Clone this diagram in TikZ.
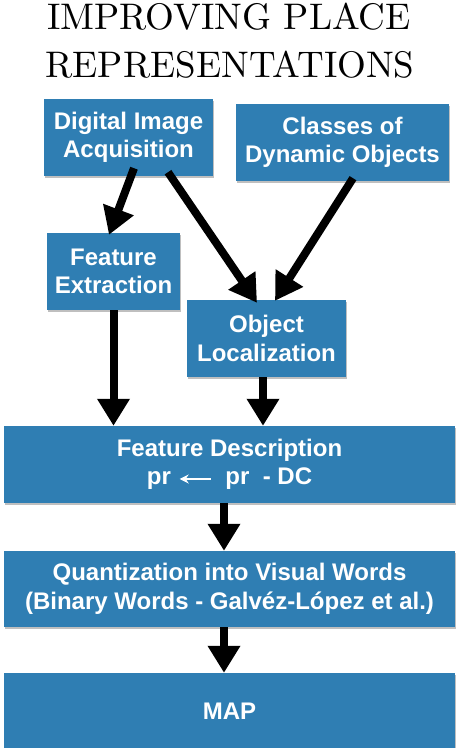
\documentclass[tikz,border=0pt]{standalone}
\usepackage{fontspec}
\setsansfont{Liberation Sans}
\usetikzlibrary{arrows.meta,shadows}
\definecolor{boxblue}{RGB}{47,126,179}
\newcommand{\whitearrow}{\tikz[baseline=0pt]\draw[white, line width=1.6pt, -{Stealth[length=9pt,width=9pt]}] (31pt,6pt) -- (0pt,6pt);}
\begin{document}
\begin{tikzpicture}[x=1pt,y=-1pt,
  box/.style={fill=boxblue, draw=none, text=white, align=center,
    font=\sffamily\bfseries\fontsize{24}{28.5}\selectfont,
    inner sep=0pt,
    drop shadow={shadow xshift=1pt, shadow yshift=-1.5pt, opacity=0.25, fill=black}},
  flow/.style={line width=8pt, -{Triangle[width=31pt,length=27pt]}},
  titletext/.style={anchor=base, inner sep=0pt}
]
\useasboundingbox (0,0) rectangle (458,748);
\begin{scope}
\clip (0,0) rectangle (458,748);
\node[titletext] (title1) at (229,29) {\scalebox{3.7}{\fontsize{10}{12}\selectfont IMPROVING PLACE}};
\node[titletext] (title2) at (230,77) {\scalebox{3.7}{\fontsize{10}{12}\selectfont REPRESENTATIONS}};

\node[box, minimum width=169pt, minimum height=77pt] (dia) at (128.5,137.5) {Digital Image\\Acquisition};
\node[box, minimum width=213pt, minimum height=77pt] (cdo) at (342.5,142.5) {Classes of\\Dynamic Objects};
\node[box, minimum width=133pt, minimum height=77pt] (fe) at (113.5,271.5) {Feature\\Extraction};
\node[box, minimum width=159pt, minimum height=77pt] (ol) at (266.5,338.5) {Object\\Localization};
\node[box, minimum width=451pt, minimum height=77pt] (fd) at (229.5,464.5) {Feature Description\\pr\hspace{8pt}\whitearrow\hspace{14pt}pr~~- DC};
\node[box, minimum width=451pt, minimum height=76pt] (q) at (229.5,589) {Quantization into Visual Words\\(Binary Words - Galvéz-López et al.)};
\node[box, minimum width=451pt, minimum height=77pt] (map) at (229.5,711.5) {MAP};

\draw[flow] ([xshift=5.5pt,yshift=8pt]dia.south) -- ([xshift=-4.5pt,yshift=-2pt]fe.north);
\draw[flow] ([xshift=39.5pt,yshift=4pt]dia.south) -- ([xshift=-9.5pt,yshift=-3pt]ol.north);
\draw[flow] ([xshift=10.5pt,yshift=3pt]cdo.south) -- ([xshift=8.5pt,yshift=-1pt]ol.north);
\draw[flow] (fe.south) -- (fe.south |- fd.north);
\draw[flow] ([xshift=-3.5pt]ol.south) -- ([xshift=-3.5pt]ol.south |- fd.north);
\draw[flow] ([xshift=-5.5pt]fd.south) -- ([xshift=-5.5pt]fd.south |- q.north);
\draw[flow] ([xshift=-5.5pt]q.south) -- ([xshift=-5.5pt]q.south |- map.north);
\end{scope}
\end{tikzpicture}
\end{document}
